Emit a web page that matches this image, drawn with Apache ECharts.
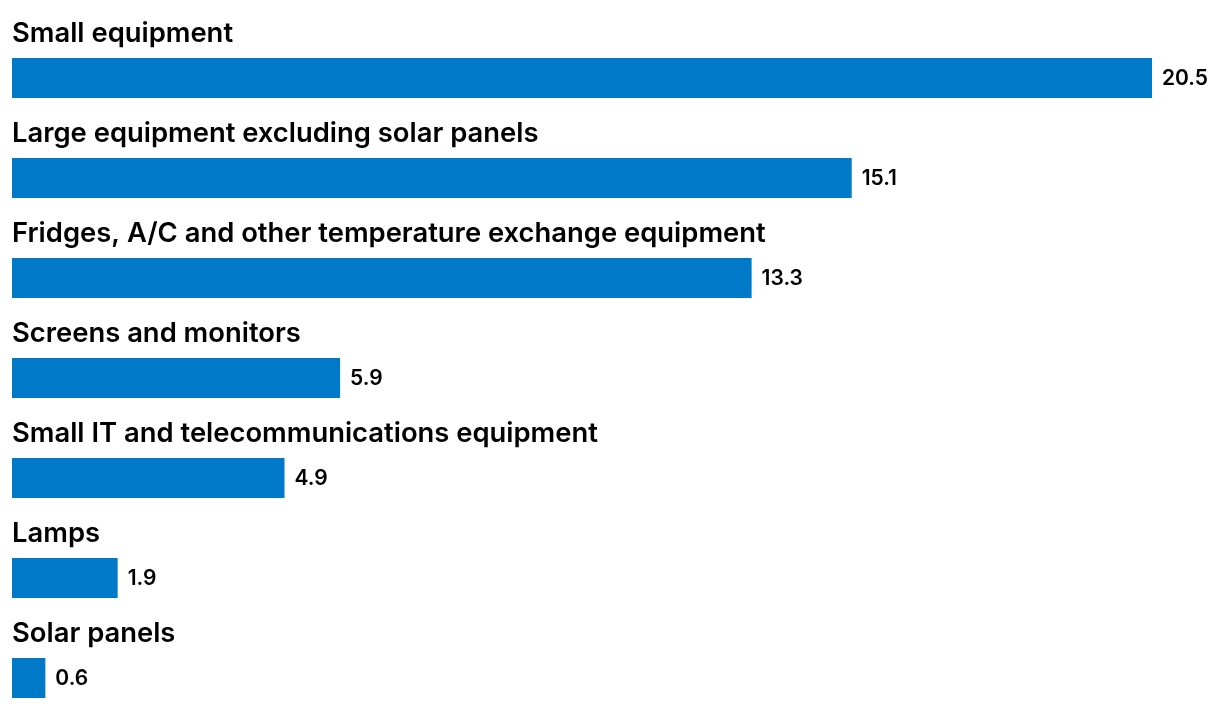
<!DOCTYPE html>
<html><head><meta charset="utf-8">
<script src="https://cdn.jsdelivr.net/npm/echarts@6/dist/echarts.min.js"></script>
<style>html,body{margin:0;padding:0;background:#fff}#c{width:1220px;height:708px}</style>
</head><body><div id="c"></div>
<script>
const categories = ["Small equipment","Large equipment excluding solar panels","Fridges, A/C and other temperature exchange equipment","Screens and monitors","Small IT and telecommunications equipment","Lamps","Solar panels"];
const values = [20.5, 15.1, 13.3, 5.9, 4.9, 1.9, 0.6];
const chart = echarts.init(document.getElementById('c'));
chart.setOption({
  animation:false,
  grid:{left:12, top:28, width:1140, height:700, outerBoundsMode:'none', containLabel:false},
  xAxis:{type:'value', min:0, max:20.5, show:false},
  yAxis:{type:'category', inverse:true, data:categories,
    axisLine:{show:false}, axisTick:{show:false}, axisLabel:{show:false}},
  series:[
    {type:'bar', data:values, barWidth:40, itemStyle:{color:'#007ac8'},
      label:{show:true, position:'right', distance:10, offset:[0,1], fontFamily:'Inter', fontWeight:600, fontSize:21, color:'#000'}},
    {type:'scatter', data:categories.map(()=>0), symbolSize:0, silent:true, z:5,
      itemStyle:{opacity:1},
      label:{show:true, position:'right', distance:0, offset:[0,-44], formatter:p=>p.name,
        fontFamily:'Inter', fontWeight:600, fontSize:27.4, color:'#000', opacity:1}}
  ]
});
</script></body></html>
